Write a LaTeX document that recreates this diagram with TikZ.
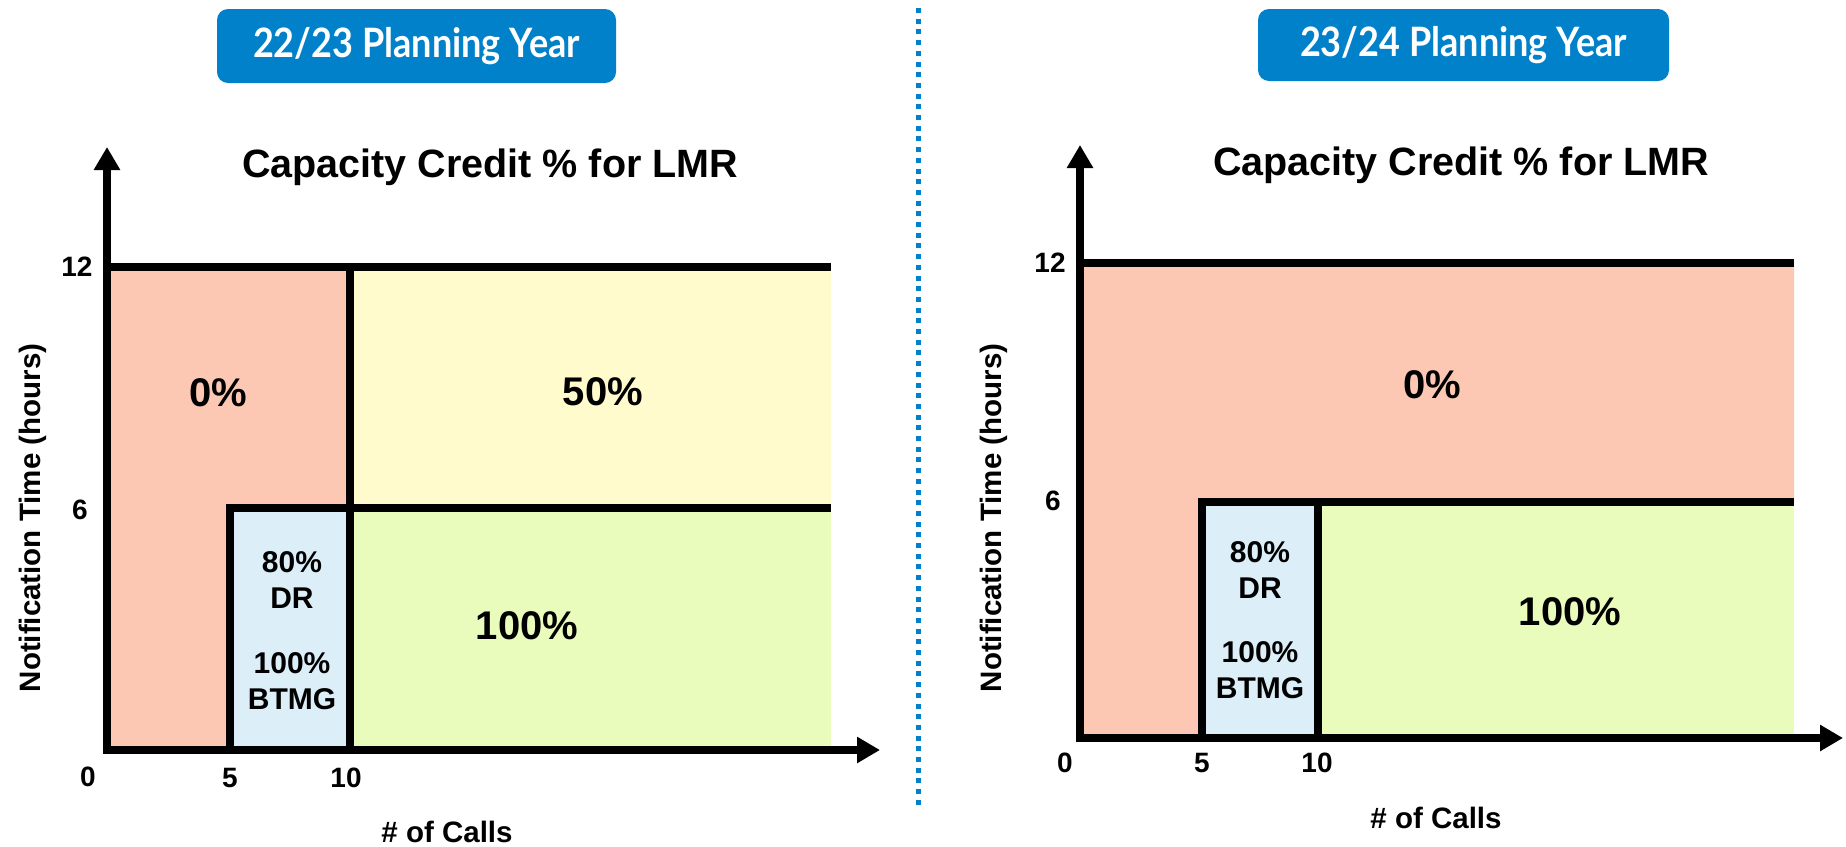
\documentclass[tikz,border=0pt]{standalone}
\usepackage{fontspec}
\setmainfont{Liberation Sans}
\newfontfamily\latofont[FakeStretch=0.89]{Lato}
\usetikzlibrary{arrows.meta}
\definecolor{titleblue}{RGB}{0,129,201}
\definecolor{zeropink}{RGB}{252,200,180}
\definecolor{halfyellow}{RGB}{255,251,205}
\definecolor{fullgreen}{RGB}{234,252,187}
\definecolor{drblue}{RGB}{220,238,248}

\begin{document}
\begin{tikzpicture}[x=1pt,y=-1pt,
  bar/.style={line width=7.5pt},
  axisline/.style={line width=7.5pt,
    {Triangle[length=23pt,width=25pt]}-{Triangle[length=23pt,width=25pt]}},
  yeartab/.style={fill=titleblue, rounded corners=11pt, text=white,
    font=\latofont\bfseries\fontsize{40.5}{48}\selectfont, inner sep=0pt},
  divider/.style={draw=titleblue, line width=5pt, dash pattern=on 5pt off 5.7pt},
  charttitle/.style={font=\bfseries\fontsize{39.5}{47}\selectfont, anchor=base west, inner sep=0pt},
  ticklabel/.style={font=\bfseries\fontsize{28}{34}\selectfont, inner sep=0pt},
  axistitle/.style={font=\bfseries\fontsize{29.5}{35}\selectfont, inner sep=0pt},
  credit/.style={font=\bfseries\fontsize{40}{48}\selectfont, inner sep=0pt},
  boxtext/.style={font=\bfseries\fontsize{30}{36}\selectfont, align=center, inner sep=0pt},
]
\useasboundingbox (0,0) rectangle (1846,846);
\fill[white] (0,0) rectangle (1846,846);

% planning-year tabs
\node[yeartab, minimum width=399pt, minimum height=74pt] (tabA) at (416.5,46) {22/23 Planning Year};
\node[yeartab, minimum width=411pt, minimum height=72pt] (tabB) at (1463.5,45) {23/24 Planning Year};

% dotted separator between the two years
\draw[divider] (918,8) -- (918,806);

% ---------- 22/23 chart ----------
\fill[zeropink] (107,267) -- (350,267) -- (350,508) -- (230,508) -- (230,750) -- (107,750) -- cycle;
\fill[halfyellow] (350,267) rectangle (831,508);
\fill[fullgreen] (350,508) rectangle (831,750);
\fill[drblue] (230,508) rectangle (350,750);
\draw[bar] (107,267) -- (831,267);
\draw[bar] (350,267) -- (350,750);
\draw[bar] (230,750) -- (230,508) -- (831,508);
\draw[axisline] (107,147) -- (107,750) -- (880,750);

\node[charttitle] (titleA) at (242,177) {Capacity Credit \% for LMR};
\node[ticklabel] (yA12) at (77,267) {12};
\node[ticklabel] (yA6) at (80,510) {6};
\node[ticklabel] (xA0) at (88,777) {0};
\node[ticklabel] (xA5) at (230,778) {5};
\node[ticklabel] (xA10) at (346,778) {10};
\node[axistitle] (xlabA) at (447,832) {\# of Calls};
\node[axistitle, rotate=90] (ylabA) at (33,518) {Notification Time (hours)};
\node[credit] (zeroA) at (218,393) {0\%};
\node[credit] (halfA) at (603,392) {50\%};
\node[credit] (fullA) at (527,626) {100\%};
\node[boxtext] (drA) at (292,580) {80\%\\DR};
\node[boxtext] (btmgA) at (292,681) {100\%\\BTMG};

% ---------- 23/24 chart ----------
\fill[zeropink] (1080,263) -- (1794,263) -- (1794,502) -- (1202,502) -- (1202,738) -- (1080,738) -- cycle;
\fill[drblue] (1202,502) rectangle (1318,738);
\fill[fullgreen] (1318,502) rectangle (1794,738);
\draw[bar] (1080,263) -- (1794,263);
\draw[bar] (1202,738) -- (1202,502) -- (1794,502);
\draw[bar] (1318,502) -- (1318,738);
\draw[axisline] (1080,145) -- (1080,738) -- (1843,738);

\node[charttitle] (titleB) at (1213,175) {Capacity Credit \% for LMR};
\node[ticklabel] (yB12) at (1050,263) {12};
\node[ticklabel] (yB6) at (1053,501) {6};
\node[ticklabel] (xB0) at (1065,763) {0};
\node[ticklabel] (xB5) at (1202,763) {5};
\node[ticklabel] (xB10) at (1317,763) {10};
\node[axistitle] (xlabB) at (1436,818) {\# of Calls};
\node[axistitle, rotate=90] (ylabB) at (994,518) {Notification Time (hours)};
\node[credit] (zeroB) at (1432,385) {0\%};
\node[credit] (fullB) at (1570,612) {100\%};
\node[boxtext] (drB) at (1260,570) {80\%\\DR};
\node[boxtext] (btmgB) at (1260,670) {100\%\\BTMG};
\end{tikzpicture}
\end{document}
